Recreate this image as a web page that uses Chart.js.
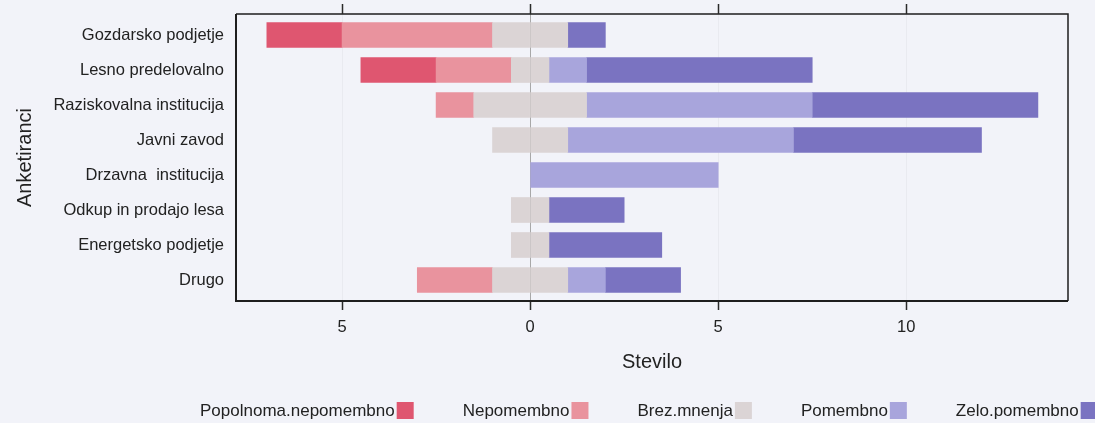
<!DOCTYPE html>
<html>
<head>
<meta charset="utf-8">
<script src="https://cdn.jsdelivr.net/npm/chart.js@4.4.1/dist/chart.umd.min.js"></script>
<style>
  html, body { margin: 0; padding: 0; background: #f2f3f9; }
  #wrap { width: 1095px; height: 423px; }
</style>
</head>
<body>
<div id="wrap"><canvas id="c" width="1095" height="423"></canvas></div>
<script>
// ---- data ----
const categories = [
  "Gozdarsko podjetje",
  "Lesno predelovalno",
  "Raziskovalna institucija",
  "Javni zavod",
  "Drzavna  institucija",
  "Odkup in prodajo lesa",
  "Energetsko podjetje",
  "Drugo"
];
const popolnomaNepomembno = [2, 2, 0, 0, 0, 0, 0, 0];
const nepomembno          = [4, 2, 1, 0, 0, 0, 0, 2];
const brezMnenja          = [2, 1, 3, 2, 0, 1, 1, 2];
const pomembno            = [0, 1, 6, 6, 5, 0, 0, 1];
const zeloPomembno        = [1, 6, 6, 5, 0, 2, 3, 2];
const xTickValues = [-5, 0, 5, 10];
const legendLabels = ["Popolnoma.nepomembno", "Nepomembno", "Brez.mnenja", "Pomembno", "Zelo.pomembno"];
const legendColors = ["#df5670", "#e9939e", "#dbd4d5", "#a8a5dc", "#7a73c1"];
const xTitle = "Stevilo";
const yTitle = "Anketiranci";

// ---- styling ----
const FONT = "'Liberation Sans', Arial, Helvetica, sans-serif";
const TXT = "#222";

const toPts = (arr, sign, factor) => arr.map((v, i) => ({ x: v === 0 ? null : sign * v * factor, y: i }));

const datasets = [
  { label: legendLabels[2] + " (-)", data: toPts(brezMnenja, -1, 0.5), backgroundColor: legendColors[2] },
  { label: legendLabels[1], data: toPts(nepomembno, -1, 1), backgroundColor: legendColors[1] },
  { label: legendLabels[0], data: toPts(popolnomaNepomembno, -1, 1), backgroundColor: legendColors[0] },
  { label: legendLabels[2] + " (+)", data: toPts(brezMnenja, 1, 0.5), backgroundColor: legendColors[2] },
  { label: legendLabels[3], data: toPts(pomembno, 1, 1), backgroundColor: legendColors[3] },
  { label: legendLabels[4], data: toPts(zeloPomembno, 1, 1), backgroundColor: legendColors[4] }
].map(d => Object.assign(d, { barThickness: 25, borderWidth: 0, borderSkipped: false }));

const bgPlugin = {
  id: 'bg',
  beforeDraw(chart) {
    const ctx = chart.ctx;
    ctx.save();
    ctx.fillStyle = '#f2f3f9';
    ctx.fillRect(0, 0, chart.width, chart.height);
    ctx.restore();
  }
};

// frame around the panel plus mirrored tick marks on the top edge (positions from the x scale)
const framePlugin = {
  id: 'frame',
  afterDatasetsDraw(chart) {
    const { ctx, chartArea: a } = chart;
    const xs = chart.scales.x;
    ctx.save();
    ctx.strokeStyle = '#1e1e1e';
    ctx.lineWidth = 1.5;
    ctx.beginPath();
    ctx.moveTo(a.left, a.top); ctx.lineTo(a.right, a.top); ctx.lineTo(a.right, a.bottom);
    ctx.stroke();
    ctx.lineWidth = 2;
    ctx.beginPath();
    ctx.moveTo(a.right, a.bottom); ctx.lineTo(a.left, a.bottom); ctx.lineTo(a.left, a.top);
    ctx.stroke();
    ctx.strokeStyle = '#2a2a2a';
    ctx.lineWidth = 1.5;
    xTickValues.forEach(v => {
      const px = Math.round(xs.getPixelForValue(v)) + 0.5;
      ctx.beginPath();
      ctx.moveTo(px, a.top);
      ctx.lineTo(px, a.top - 10);
      ctx.stroke();
    });
    ctx.restore();
  }
};

const legendPlugin = {
  id: 'customLegend',
  afterDraw(chart) {
    const ctx = chart.ctx;
    ctx.save();
    ctx.font = "17px " + FONT;
    ctx.textBaseline = 'middle';
    ctx.textAlign = 'left';
    let x = 200;
    const yc = 411;
    legendLabels.forEach((lab, i) => {
      ctx.fillStyle = TXT;
      ctx.fillText(lab, x, yc);
      const w = ctx.measureText(lab).width;
      ctx.fillStyle = legendColors[i];
      ctx.fillRect(x + w + 2, yc - 9, 17, 17);
      x = x + w + 2 + 17 + 49;
    });
    ctx.restore();
  }
};

new Chart(document.getElementById('c'), {
  type: 'bar',
  data: { datasets },
  plugins: [bgPlugin, framePlugin, legendPlugin],
  options: {
    indexAxis: 'y',
    responsive: false,
    animation: false,
    events: [],
    layout: { padding: { left: 0, right: 27, top: 14, bottom: 47 } },
    plugins: { legend: { display: false }, tooltip: { enabled: false } },
    scales: {
      x: {
        type: 'linear',
        position: 'bottom',
        stacked: true,
        offset: false,
        min: -7.82,
        max: 14.3,
        afterBuildTicks: s => { s.ticks = xTickValues.map(v => ({ value: v })); },
        afterFit: s => { s.height = 75; s.paddingLeft = 0; s.paddingRight = 0; },
        border: { display: false },
        grid: {
          offset: false,
          drawOnChartArea: true,
          drawTicks: true,
          tickLength: 9,
          tickColor: '#2a2a2a',
          tickWidth: 1.5,
          lineWidth: 1,
          color: c => (c.tick && c.tick.value === 0) ? '#a8a8a8' : 'rgba(0,0,0,0.035)'
        },
        ticks: {
          padding: 8,
          color: TXT,
          font: { family: FONT, size: 16.5 },
          callback: v => String(Math.abs(v))
        },
        title: {
          display: true,
          text: xTitle,
          color: TXT,
          font: { family: FONT, size: 20 },
          padding: { top: 0, bottom: 2 }
        }
      },
      y: {
        type: 'linear',
        position: 'left',
        stacked: true,
        offset: false,
        reverse: true,
        min: -0.6,
        max: 7.6,
        afterBuildTicks: s => { s.ticks = categories.map((_, i) => ({ value: i })); },
        afterFit: s => { s.width = 236; s.paddingTop = 0; s.paddingBottom = 0; },
        border: { display: false },
        grid: { display: false, drawTicks: false, offset: false },
        ticks: {
          padding: 12,
          color: TXT,
          font: { family: FONT, size: 16.5 },
          callback: v => categories[v]
        },
        title: {
          display: true,
          text: yTitle,
          color: TXT,
          font: { family: FONT, size: 20 },
          padding: { top: 13, bottom: 0 }
        }
      }
    }
  }
});
</script>
</body>
</html>
